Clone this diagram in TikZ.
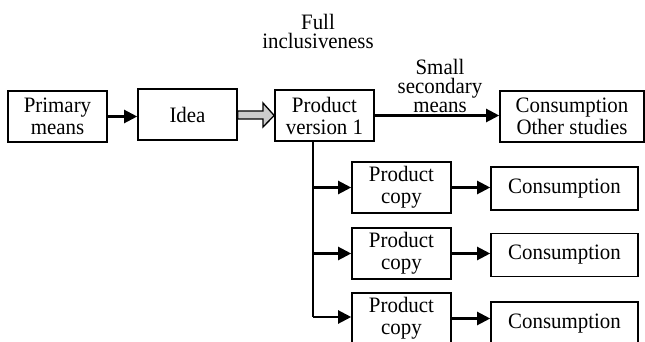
\documentclass[tikz,border=0pt]{standalone}
\usepackage{fontspec}
\setmainfont[FakeStretch=0.95]{Liberation Serif}
\usetikzlibrary{arrows.meta}
\begin{document}
\begin{tikzpicture}[x=1pt,y=-1pt,
  box/.style={draw,line width=1.6pt,minimum width=99pt,minimum height=51pt,inner sep=0pt,align=center,font=\fontsize{22}{22}\selectfont,anchor=center},
  lbl/.style={align=center,font=\fontsize{22}{19}\selectfont,inner sep=0pt},
  arr/.style={line width=2.2pt,-{Triangle[length=13pt,width=13pt]}},
  ln/.style={line width=2.2pt}]
\useasboundingbox (0,0) rectangle (645,342);
\node[box] (pm) at (57.5,116.5) {Primary\\means};
\node[box] (idea) at (187.5,114.5) {Idea};
\node[box] (pv) at (324.5,115.5) {Product\\version 1};
\node[box,minimum width=144pt] (cos) at (572,116.5) {Consumption\\Other studies};
\node[box] (pc1) at (401.5,187.5) {Product\\copy};
\node[box] (pc2) at (401.5,253.5) {Product\\copy};
\node[box] (pc3) at (401.5,318.5) {Product\\copy};
\node[box,minimum width=147pt,minimum height=43pt] (c1) at (564.5,188.5) {Consumption};
\node[box,minimum width=147pt,minimum height=43pt] (c2) at (564.5,255) {Consumption};
\node[box,minimum width=147pt,minimum height=43pt] (c3) at (564.5,323.5) {Consumption};
\node[lbl] (full) at (318,31) {Full\\inclusiveness};
\node[lbl] (small) at (440,86) {Small\\secondary\\means};
\draw[arr] (pm.east) -- (idea.west |- pm.east);
\draw[line width=1.3pt,fill=black!20] (idea.east |- 0,111) -- (263,111) -- (263,103) -- (pv.west) -- (263,127) -- (263,119) -- (idea.east |- 0,119) -- cycle;
\draw[arr] (pv.east) -- (cos.west |- pv.east);
\coordinate (br) at (313,317);
\draw[ln] (pv.south -| br) -- (br);
\draw[arr] (br |- pc1.west) -- (pc1.west);
\draw[arr] (br |- pc2.west) -- (pc2.west);
\draw[arr] (br) -- (pc3.west |- br);
\draw[arr] (pc1.east) -- (c1.west |- pc1.east);
\draw[arr] (pc2.east) -- (c2.west |- pc2.east);
\draw[arr] (pc3.east) -- (c3.west |- pc3.east);
\end{tikzpicture}
\end{document}
